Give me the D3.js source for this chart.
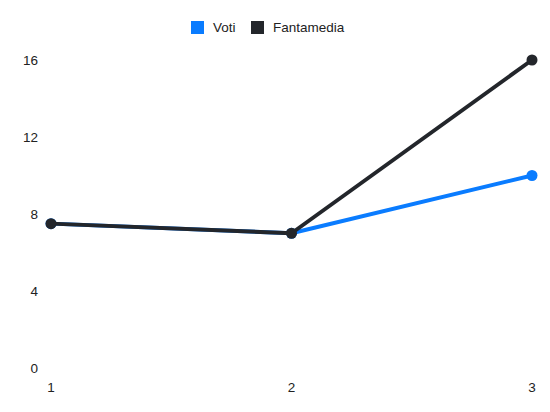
<!DOCTYPE html>
<html>
<head>
<meta charset="utf-8">
<script src="https://cdnjs.cloudflare.com/ajax/libs/d3/7.8.5/d3.min.js"></script>
<style>
  body { margin: 0; background: #fff; }
  text { font-family: "Liberation Sans", Arial, sans-serif; }
</style>
</head>
<body>
<script>
  // data
  var giornate = [1, 2, 3];
  var voti = [7.5, 7, 10];
  var fantamedia = [7.5, 7, 16];
  var yTicks = [0, 4, 8, 12, 16];

  var series = [
    {name: "Voti", values: voti, color: "#0a7cff"},
    {name: "Fantamedia", values: fantamedia, color: "#23262b"}
  ];

  var width = 550, height = 412;

  var svg = d3.select("body").append("svg")
    .attr("width", width)
    .attr("height", height);

  var x = d3.scaleLinear().domain([1, 3]).range([51, 532]);
  var y = d3.scaleLinear().domain([0, 16]).range([368, 60]);

  // y tick labels
  svg.append("g").selectAll("text")
    .data(yTicks)
    .enter().append("text")
    .attr("x", 38)
    .attr("y", function(d) { return y(d); })
    .attr("dy", "0.35em")
    .attr("text-anchor", "end")
    .style("font-size", "13.5px")
    .style("fill", "#222")
    .text(function(d) { return d; });

  // x tick labels
  svg.append("g").selectAll("text")
    .data(giornate)
    .enter().append("text")
    .attr("x", function(d) { return x(d); })
    .attr("y", 387)
    .attr("dy", "0.35em")
    .attr("text-anchor", "middle")
    .style("font-size", "13.5px")
    .style("fill", "#222")
    .text(function(d) { return d; });

  var line = d3.line()
    .x(function(d, i) { return x(giornate[i]); })
    .y(function(d) { return y(d); });

  series.forEach(function(s) {
    svg.append("path")
      .attr("d", line(s.values))
      .style("fill", "none")
      .style("stroke", s.color)
      .style("stroke-width", 4)
      .style("stroke-linejoin", "round");

    svg.append("g").selectAll("circle")
      .data(s.values)
      .enter().append("circle")
      .attr("cx", function(d, i) { return x(giornate[i]); })
      .attr("cy", function(d) { return y(d); })
      .attr("r", 5.5)
      .style("fill", s.color);
  });

  // legend
  var legend = svg.append("g");
  var lx = [191, 251];
  series.forEach(function(s, i) {
    legend.append("rect")
      .attr("x", lx[i])
      .attr("y", 21)
      .attr("width", 13)
      .attr("height", 13)
      .style("fill", s.color);
    legend.append("text")
      .attr("x", lx[i] + 22)
      .attr("y", 27.5)
      .attr("dy", "0.35em")
      .style("font-size", "13.5px")
      .style("fill", "#222")
      .text(s.name);
  });
</script>
</body>
</html>
